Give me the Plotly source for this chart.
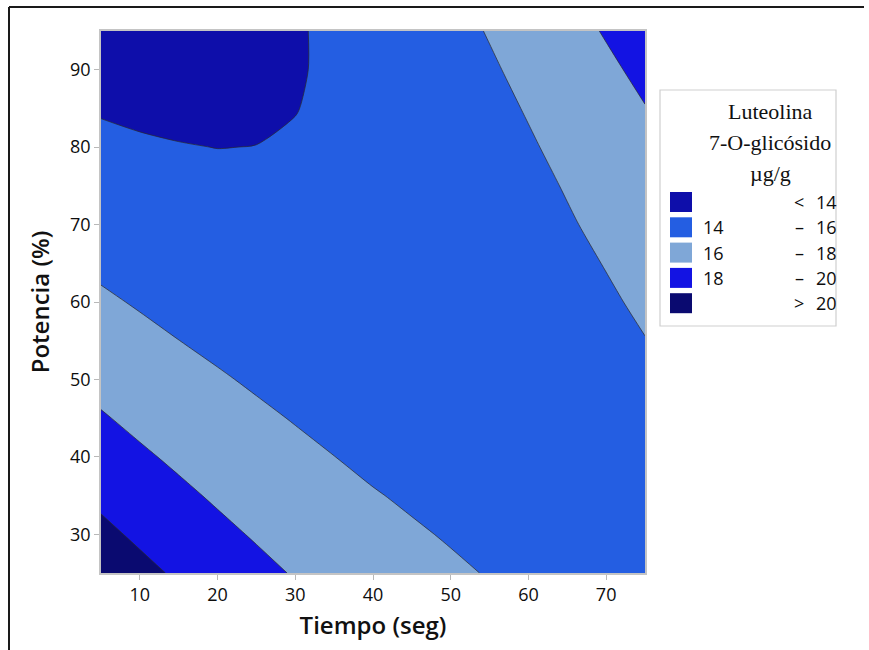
import plotly.graph_objects as go

# ---- data ----
tiempo = [5, 10, 15, 20, 25, 30, 35, 40, 45, 50, 55, 60, 65, 70, 75]
potencia = [25, 30, 35, 40, 45, 50, 55, 60, 65, 70, 75, 80, 85, 90, 95]

z_p25 = [21.26, 20.48, 19.75, 19.07, 18.45, 17.88, 17.37, 16.91, 16.53, 16.20, 15.93, 15.71, 15.55, 15.44, 15.38]
z_p30 = [20.42, 19.69, 19.02, 18.40, 17.84, 17.33, 16.87, 16.47, 16.15, 15.89, 15.68, 15.52, 15.42, 15.37, 15.38]
z_p35 = [19.62, 18.95, 18.34, 17.78, 17.27, 16.82, 16.42, 16.08, 15.82, 15.62, 15.47, 15.37, 15.33, 15.35, 15.41]
z_p40 = [18.86, 18.25, 17.70, 17.19, 16.74, 16.35, 16.01, 15.72, 15.53, 15.39, 15.30, 15.26, 15.28, 15.36, 15.49]
z_p45 = [18.15, 17.59, 17.09, 16.65, 16.26, 15.92, 15.64, 15.41, 15.28, 15.20, 15.17, 15.20, 15.28, 15.42, 15.61]
z_p50 = [17.47, 16.98, 16.53, 16.15, 15.81, 15.53, 15.31, 15.14, 15.07, 15.05, 15.08, 15.17, 15.32, 15.51, 15.77]
z_p55 = [16.84, 16.40, 16.01, 15.68, 15.41, 15.19, 15.02, 14.91, 14.90, 14.94, 15.04, 15.19, 15.39, 15.65, 15.97]
z_p60 = [16.24, 15.86, 15.54, 15.26, 15.05, 14.88, 14.77, 14.72, 14.77, 14.87, 15.03, 15.24, 15.51, 15.83, 16.21]
z_p65 = [15.69, 15.37, 15.10, 14.88, 14.72, 14.62, 14.57, 14.57, 14.68, 14.85, 15.07, 15.34, 15.67, 16.05, 16.49]
z_p70 = [15.18, 14.92, 14.70, 14.55, 14.44, 14.40, 14.40, 14.46, 14.64, 14.86, 15.14, 15.48, 15.87, 16.31, 16.81]
z_p75 = [14.71, 14.50, 14.35, 14.25, 14.21, 14.22, 14.28, 14.40, 14.63, 14.91, 15.25, 15.64, 16.09, 16.59, 17.15]
z_p80 = [14.28, 14.13, 14.04, 13.99, 14.01, 14.08, 14.20, 14.37, 14.66, 15.00, 15.40, 15.85, 16.36, 16.92, 17.53]
z_p85 = [13.90, 13.80, 13.76, 13.78, 13.85, 13.98, 14.16, 14.39, 14.73, 15.13, 15.59, 16.10, 16.66, 17.28, 17.95]
z_p90 = [13.55, 13.51, 13.53, 13.61, 13.74, 13.92, 14.16, 14.45, 14.85, 15.31, 15.82, 16.39, 17.01, 17.68, 18.41]
z_p95 = [13.24, 13.27, 13.34, 13.48, 13.66, 13.90, 14.20, 14.55, 15.01, 15.52, 16.09, 16.72, 17.39, 18.13, 18.91]

luteolina = [z_p25, z_p30, z_p35, z_p40, z_p45, z_p50, z_p55, z_p60,
             z_p65, z_p70, z_p75, z_p80, z_p85, z_p90, z_p95]

level_start, level_end, level_step = 14, 20, 2
band_colors = ["#0E0EAA", "#245EE2", "#7FA7D7", "#1313E3", "#0A0A70"]
band_left = ["", "14", "16", "18", ""]
band_sym = ["<", "–", "–", "–", ">"]
band_right = ["14", "16", "18", "20", "20"]
legend_title = ["Luteolina", "7-O-glicósido", "µg/g"]
x_ticks = [10, 20, 30, 40, 50, 60, 70]
y_ticks = [30, 40, 50, 60, 70, 80, 90]

# ---- figure geometry (pixels) ----
W, H = 869, 650
PL, PR, PT, PB = 101, 645, 31, 573


def px(x):
    return (x - PL) / (PR - PL)


def py(y):
    return (PB - y) / (PB - PT)


n = len(band_colors)
colorscale = [[i / (n - 1), c] for i, c in enumerate(band_colors)]

fig = go.Figure()
fig.add_trace(go.Contour(
    x=tiempo, y=potencia, z=luteolina,
    autocontour=False,
    contours=dict(start=level_start, end=level_end, size=level_step,
                  coloring="fill", showlines=True),
    line=dict(color="#2a2a2a", width=0.7, smoothing=0.8),
    colorscale=colorscale, showscale=False, hoverinfo="skip",
))

tick_font = dict(family="Open Sans, Noto Sans, sans-serif", size=18, color="#0d0d0d")
title_font = dict(family="Open Sans, Noto Sans, sans-serif", size=24, color="#111111", weight=600)

fig.update_layout(
    width=W, height=H,
    margin=dict(l=PL, r=W - PR, t=PT, b=H - PB, autoexpand=False),
    paper_bgcolor="white", plot_bgcolor="white",
    showlegend=False,
    xaxis=dict(range=[5, 75], tickvals=x_ticks, ticks="outside", ticklen=5,
               tickcolor="#b8b8b8", showline=True, linecolor="#c4c4c4", linewidth=1.5,
               mirror=True, showgrid=False, zeroline=False, tickfont=tick_font,
               title=dict(text="Tiempo (seg)", font=title_font, standoff=12)),
    yaxis=dict(range=[25, 95], tickvals=y_ticks, ticks="outside", ticklen=5,
               tickcolor="#b8b8b8", showline=True, linecolor="#c4c4c4", linewidth=1.5,
               mirror=True, showgrid=False, zeroline=False, tickfont=tick_font,
               title=dict(text="Potencia (%)", font=title_font, standoff=14)),
)

shapes = []
annotations = []

# outer frame: left edge and top edge
shapes.append(dict(type="line", xref="paper", yref="paper",
                   x0=px(9), x1=px(9), y0=py(7), y1=py(650),
                   line=dict(color="#1a1a1a", width=2)))
shapes.append(dict(type="line", xref="paper", yref="paper",
                   x0=px(9), x1=px(864), y0=py(7), y1=py(7),
                   line=dict(color="#1a1a1a", width=2)))

# legend box
shapes.append(dict(type="rect", xref="paper", yref="paper",
                   x0=px(660), x1=px(836), y0=py(326), y1=py(90),
                   line=dict(color="#cfcfcf", width=1.2), fillcolor="white"))

serif = dict(family="Liberation Serif, Times New Roman, serif", size=22, color="#111")
for i, t in enumerate(legend_title):
    annotations.append(dict(xref="paper", yref="paper", x=px(770), y=py(112 + i * 30.5),
                            text=t, showarrow=False, xanchor="center", yanchor="middle",
                            font=serif))

leg_font = dict(family="Open Sans, Noto Sans, sans-serif", size=18, color="#0d0d0d")
for i in range(n):
    yc = 202 + i * 25.3
    shapes.append(dict(type="rect", xref="paper", yref="paper",
                       x0=px(670), x1=px(692), y0=py(yc + 10), y1=py(yc - 10),
                       line=dict(width=0), fillcolor=band_colors[i]))
    if band_left[i]:
        annotations.append(dict(xref="paper", yref="paper", x=px(701), y=py(yc),
                                text=band_left[i], showarrow=False, xanchor="left",
                                yanchor="middle", font=leg_font))
    annotations.append(dict(xref="paper", yref="paper", x=px(799), y=py(yc),
                            text=band_sym[i], showarrow=False, xanchor="center",
                            yanchor="middle", font=leg_font))
    annotations.append(dict(xref="paper", yref="paper", x=px(839), y=py(yc),
                            text=band_right[i], showarrow=False, xanchor="right",
                            yanchor="middle", font=leg_font))

fig.update_layout(shapes=shapes, annotations=annotations)
fig.write_html("out.html")
